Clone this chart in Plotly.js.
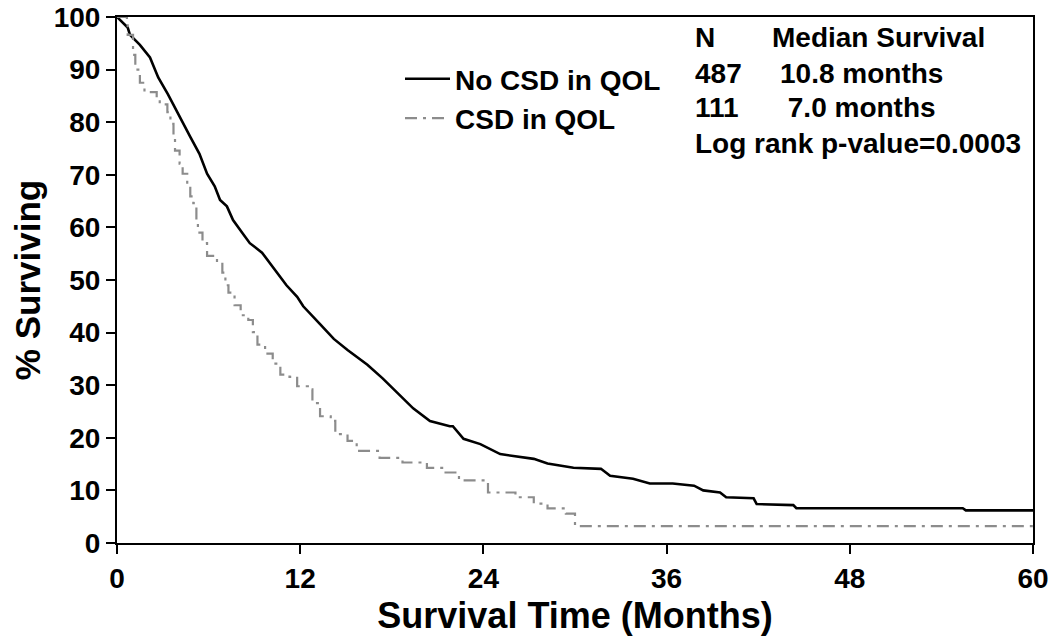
<!DOCTYPE html>
<html>
<head>
<meta charset="utf-8">
<script src="https://cdn.plot.ly/plotly-3.0.1.min.js"></script>
<style>html,body{margin:0;padding:0;background:#fff;}#chart{width:1050px;height:638px;}</style>
</head>
<body>
<div id="chart"></div>
<script>
// No CSD in QOL (N=487) — Kaplan-Meier estimate
const noCsdMonths = [0,0.7,0.85,1.5,2.16,2.7,3.34,4.0,4.8,5.4,5.9,6.4,6.75,7.2,7.6,8.2,8.7,9.5,10.2,11.1,11.8,12.2,13.3,14.2,15.1,16.4,17.4,18.3,19.4,20.5,21.8,22.0,22.7,23.8,25.1,27.3,28.2,29.9,31.7,32.3,33.8,34.9,36.4,37.8,38.4,39.5,39.9,41.7,41.9,44.3,44.5,45.5,55.4,55.6,60];
const noCsdSurv   = [100,98,96.6,94.7,92.3,88.5,85.3,81.5,77.2,74,70.2,67.8,65.2,64,61.4,59,57,55.2,52.4,49,46.8,45,41.6,38.8,36.7,33.9,31.3,28.8,25.6,23.2,22.2,22.2,19.8,18.8,16.9,16,15.1,14.3,14.1,12.8,12.2,11.3,11.3,10.9,10,9.6,8.7,8.5,7.4,7.2,6.6,6.6,6.6,6.2,6.2];

// CSD in QOL (N=111)
const csdMonths = [0,0.65,0.7,1.05,1.2,1.5,1.8,2.6,2.8,3.3,3.5,3.7,3.8,4.1,4.3,4.6,4.8,5.0,5.2,5.3,5.6,5.9,6.55,6.9,7.1,7.3,7.7,8.1,8.6,8.9,9.2,9.7,10.2,10.7,11.3,11.8,12.5,12.8,13.3,14,14.3,15.1,15.7,17.2,18.7,20.3,21.4,22.4,24.3,26.1,27.3,28.2,29.4,30,60];
const csdSurv   = [100,99,96.6,92.8,90,87.5,85.7,84.7,83.4,81.9,79.7,77.2,74.6,72.1,70.2,68,65.9,64.6,61.4,59,57,54.6,53.3,51.4,49,47.6,45.2,43.3,42.4,40.1,37.7,36,34.1,32,31.6,29.8,29.2,26.6,24.1,23.2,20.7,19.4,17.5,16.2,15.3,14.3,13.4,11.9,9.6,8.7,7.5,6.6,5.6,3.2,3.2];

const seriesNames = ["No CSD in QOL", "CSD in QOL"];
const xTicks = [0,12,24,36,48,60];
const yTicks = [0,10,20,30,40,50,60,70,80,90,100];
const statsHeader = ["N", "Median Survival"];
const statsN = ["487", "111"];
const statsMedian = ["10.8 months", " 7.0 months"];
const statsFooter = "Log rank p-value=0.0003";

const FAM = "'Liberation Sans', Arial, Helvetica, sans-serif";
const tickFont = {family: FAM, size: 28, color: "#000", weight: "bold"};
const textFont = {family: FAM, size: 28, color: "#000", weight: "bold"};

const traces = [
  {x: noCsdMonths, y: noCsdSurv, name: seriesNames[0], mode: "lines", legendgroup: "a",
   line: {color: "#000", width: 2.6, shape: "linear"}},
  {x: csdMonths, y: csdSurv, name: seriesNames[1], mode: "lines", legendgroup: "b",
   line: {color: "#8c8c8c", width: 2.2, shape: "hv", dash: "12px,6px,3px,6px"}}
];

const annotations = [];
function ann(text, x, y) {
  annotations.push({text: text, x: x, y: y, xref: "paper", yref: "paper", xanchor: "left", yanchor: "middle",
    showarrow: false, font: textFont});
}
// paper coords: plot area left=117, width=916, top=17, height=526
const px = v => (v - 117) / 916;
const py = v => (543 - v) / 526;
ann(statsHeader[0], px(693), py(38));
ann(statsHeader[1], px(770), py(38));
ann(statsN[0], px(693), py(73));
ann(statsMedian[0], px(778), py(73));
ann(statsN[1], px(693), py(108));
ann(statsMedian[1], px(778), py(108));
ann(statsFooter, px(693), py(143));

const layout = {
  width: 1050, height: 638,
  margin: {l: 117, r: 17, t: 17, b: 95},
  paper_bgcolor: "#fff", plot_bgcolor: "#fff",
  showlegend: true,
  legend: {x: px(400), y: py(54), xanchor: "left", yanchor: "top", bgcolor: "rgba(0,0,0,0)",
    font: {family: FAM, size: 28, color: "#000", weight: "bold"},
    tracegroupgap: 0, traceorder: "grouped", itemwidth: 45},
  xaxis: {range: [0, 60], tickvals: xTicks, ticktext: xTicks.map(String), showgrid: false, zeroline: false,
    showline: true, mirror: true, linecolor: "#000", linewidth: 2, ticklabeloverflow: "allow",
    ticks: "outside", ticklen: 9, tickwidth: 2, tickcolor: "#000", tickfont: tickFont,
    title: {text: "Survival Time (Months)", font: {family: FAM, size: 36, color: "#000", weight: "bold"}, standoff: 10}},
  yaxis: {range: [0, 100], tickvals: yTicks, ticktext: yTicks.map(String), showgrid: false, zeroline: false,
    showline: true, mirror: true, linecolor: "#000", linewidth: 2, ticklabeloverflow: "allow",
    ticks: "outside", ticklen: 9, tickwidth: 2, tickcolor: "#000", tickfont: tickFont,
    title: {text: "% Surviving", font: {family: FAM, size: 35, color: "#000", weight: "bold"}, standoff: 2}},
  annotations: annotations
};

Plotly.newPlot("chart", traces, layout, {displayModeBar: false, staticPlot: true});
</script>
</body>
</html>
